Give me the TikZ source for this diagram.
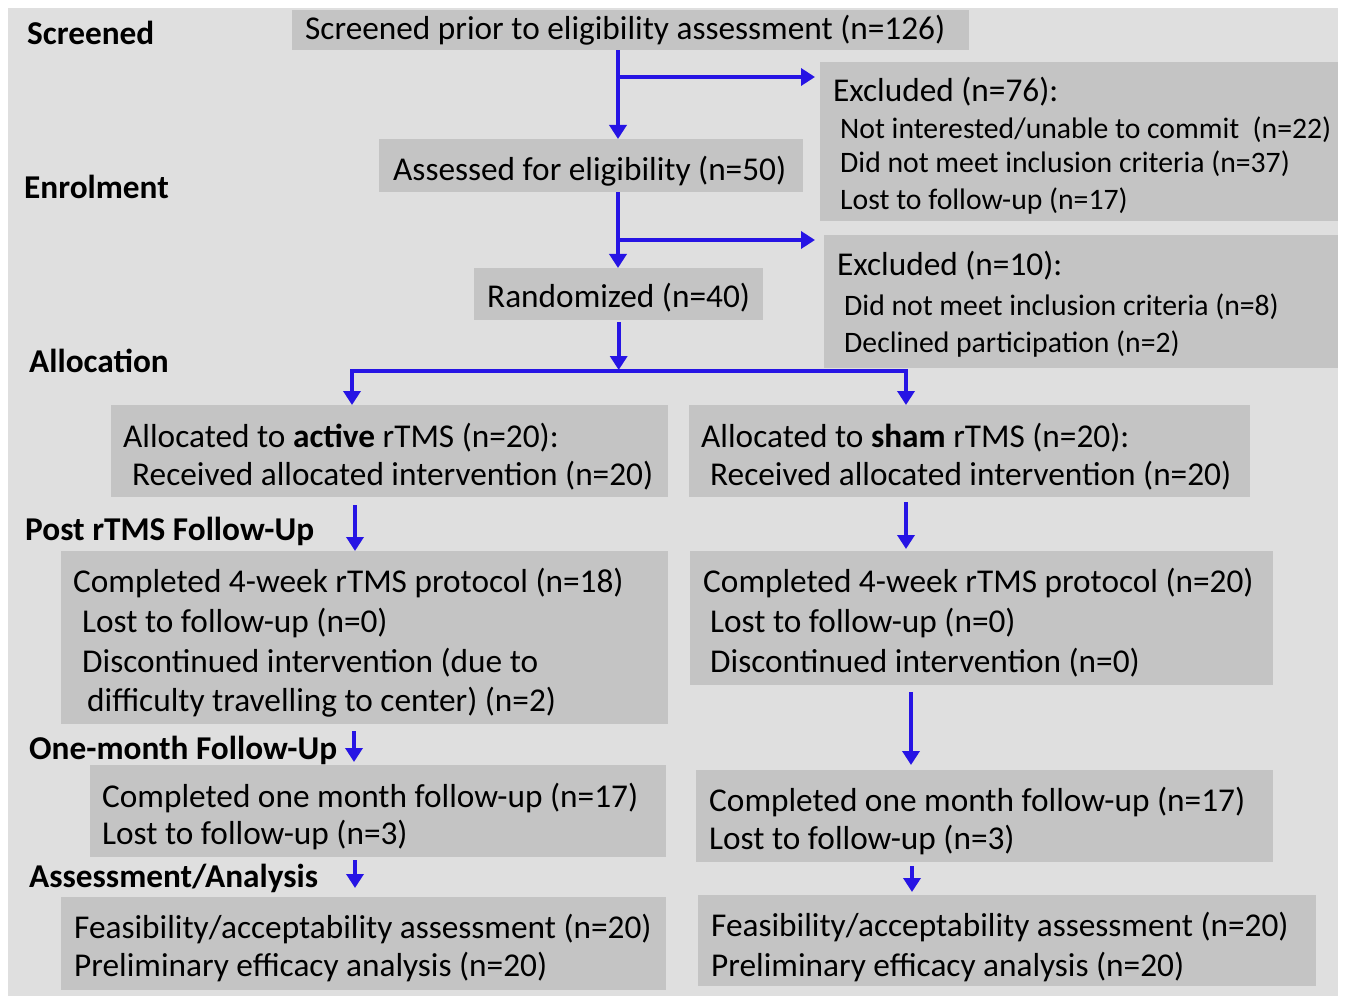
\documentclass[tikz,border=0pt]{standalone}
\usepackage{fontspec}
\setmainfont{Carlito}
\usetikzlibrary{arrows.meta,calc}
\definecolor{bggray}{RGB}{223,223,223}
\definecolor{boxgray}{RGB}{196,196,196}
\definecolor{arrowblue}{RGB}{38,20,228}
\newcommand\fsz[1]{\fontsize{#1}{#1}\selectfont}
\tikzset{
  box/.style={fill=boxgray, draw=none, inner sep=0pt, anchor=north west},
  txt/.style={anchor=base west, inner sep=0pt, font=\fsz{33.3}},
  sub/.style={anchor=base west, inner sep=0pt, font=\fsz{29.7}},
  lbl/.style={anchor=base west, inner sep=0pt, font=\bfseries\fsz{33.3}},
  arr/.style={draw=arrowblue, line width=4pt, -{Triangle[width=17pt,length=14pt]}},
  ln/.style={draw=arrowblue, line width=4pt}
}
\begin{document}
\begin{tikzpicture}[x=1pt,y=-1pt]
\useasboundingbox (0,0) rectangle (1347,1003);
\fill[white] (0,0) rectangle (1347,1003);
\fill[bggray] (8,8) rectangle (1338,996);

% boxes
\node[box, minimum width=677pt, minimum height=40pt] (scr) at (292,10) {};
\node[box, minimum width=518pt, minimum height=159pt] (ex1) at (820,62) {};
\node[box, minimum width=424pt, minimum height=53pt] (ass) at (379,139) {};
\node[box, minimum width=514pt, minimum height=133pt] (ex2) at (824,235) {};
\node[box, minimum width=289pt, minimum height=52pt] (rnd) at (474,268) {};
\node[box, minimum width=557pt, minimum height=92pt] (aal) at (111,405) {};
\node[box, minimum width=561pt, minimum height=92pt] (sal) at (689,405) {};
\node[box, minimum width=607pt, minimum height=173pt] (apo) at (61,551) {};
\node[box, minimum width=583pt, minimum height=134pt] (spo) at (690,551) {};
\node[box, minimum width=576pt, minimum height=92pt] (amo) at (90,765) {};
\node[box, minimum width=577pt, minimum height=92pt] (smo) at (696,770) {};
\node[box, minimum width=605pt, minimum height=93pt] (aas) at (61,897) {};
\node[box, minimum width=618pt, minimum height=91pt] (sas) at (698,895) {};

% stage labels
\node[lbl] (l1) at (27,45) {Screened};
\node[lbl] (l2) at (24,199) {Enrolment};
\node[lbl] (l3) at (29,372) {Allocation};
\node[lbl] (l4) at (25,540) {Post rTMS Follow-Up};
\node[lbl] (l5) at (29,759) {One-month Follow-Up};
\node[lbl] (l6) at (29,887) {Assessment/Analysis};

% texts
\node[txt] (t1) at (305,40) {Screened prior to eligibility assessment (n=126)};
\node[txt] (t2) at (833,102) {Excluded (n=76):};
\node[sub] (t3) at (840,139) {Not interested/unable to commit\ \ (n=22)};
\node[sub] (t4) at (840,173) {Did not meet inclusion criteria (n=37)};
\node[sub] (t5) at (840,210) {Lost to follow-up (n=17)};
\node[txt] (t6) at (393,181) {Assessed for eligibility (n=50)};
\node[txt] (t7) at (837,276) {Excluded (n=10):};
\node[sub] (t8) at (844,315) {Did not meet inclusion criteria (n=8)};
\node[sub] (t9) at (844,352) {Declined participation (n=2)};
\node[txt] (t10) at (487,307) {Randomized (n=40)};
\node[txt] (t11) at (123,447) {Allocated to \textbf{active} rTMS (n=20):};
\node[txt] (t12) at (132,485) {Received allocated intervention (n=20)};
\node[txt] (t13) at (701,447) {Allocated to \textbf{sham} rTMS (n=20):};
\node[txt] (t14) at (710,485) {Received allocated intervention (n=20)};
\node[txt] (t15) at (73,592) {Completed 4-week rTMS protocol (n=18)};
\node[txt] (t16) at (82,632) {Lost to follow-up (n=0)};
\node[txt] (t17) at (82,672) {Discontinued intervention (due to};
\node[txt] (t18) at (87,711) {difficulty travelling to center) (n=2)};
\node[txt] (t19) at (703,592) {Completed 4-week rTMS protocol (n=20)};
\node[txt] (t20) at (710,632) {Lost to follow-up (n=0)};
\node[txt] (t21) at (710,672) {Discontinued intervention (n=0)};
\node[txt] (t22) at (102,807) {Completed one month follow-up (n=17)};
\node[txt] (t23) at (102,844) {Lost to follow-up (n=3)};
\node[txt] (t24) at (709,811) {Completed one month follow-up (n=17)};
\node[txt] (t25) at (709,849) {Lost to follow-up (n=3)};
\node[txt] (t26) at (74,938) {Feasibility/acceptability assessment (n=20)};
\node[txt] (t27) at (74,976) {Preliminary efficacy analysis (n=20)};
\node[txt] (t28) at (711,936) {Feasibility/acceptability assessment (n=20)};
\node[txt] (t29) at (711,976) {Preliminary efficacy analysis (n=20)};

% junction coordinates
\coordinate (j1) at (618,77);
\coordinate (j2) at (618,240);
\coordinate (hl) at (352,371);
\coordinate (hr) at (906,371);

% connectors
\draw[arr] (scr.south -| j1) -- (ass.north -| j1);
\draw[arr, shorten >=5pt] (j1) -- (j1 -| ex1.west);
\draw[arr] (ass.south -| j2) -- (rnd.north -| j2);
\draw[arr, shorten >=9pt] (j2) -- (j2 -| ex2.west);
\draw[arr, shorten <=2pt] (rnd.south) -- ($(rnd.south |- hl)+(0,-1)$);
\draw[ln, line cap=rect] (hl) -- (hr);
\draw[arr] (hl) -- (aal.north -| hl);
\draw[arr] (hr) -- (sal.north -| hr);
\draw[arr, shorten <=8pt] (aal.south -| 355,0) -- (apo.north -| 355,0);
\draw[arr, shorten <=5pt, shorten >=2pt] (sal.south -| 906,0) -- (spo.north -| 906,0);
\draw[arr, shorten <=7pt, shorten >=3pt] (apo.south -| 354,0) -- (amo.north -| 354,0);
\draw[arr, shorten <=7pt, shorten >=5pt] (spo.south -| 911,0) -- (smo.north -| 911,0);
\draw[arr, shorten <=3pt, shorten >=9pt] (amo.south -| 355,0) -- (aas.north -| 355,0);
\draw[arr, shorten <=4pt, shorten >=3pt] (smo.south -| 912,0) -- (sas.north -| 912,0);
\end{tikzpicture}
\end{document}
